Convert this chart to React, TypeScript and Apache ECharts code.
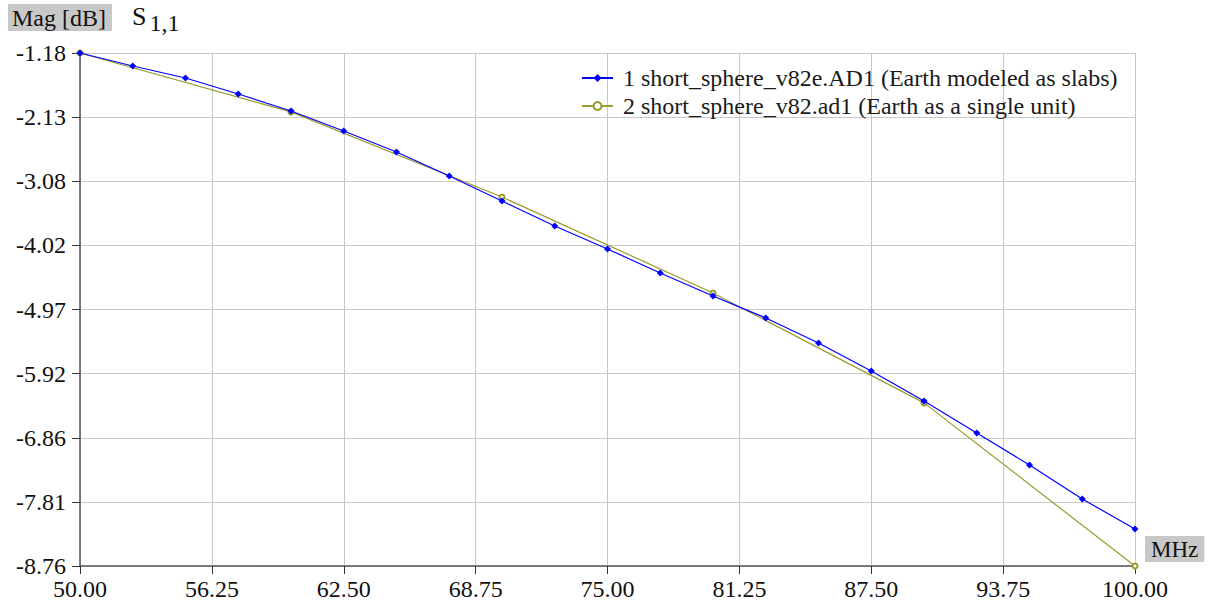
import React, { useEffect, useRef } from "react";
import * as echarts from "echarts";

const freqBlue = [50, 52.5, 55, 57.5, 60, 62.5, 65, 67.5, 70, 72.5, 75, 77.5, 80, 82.5, 85, 87.5, 90, 92.5, 95, 97.5, 100];
const magBlue = [-1.18, -1.372, -1.549, -1.786, -2.037, -2.332, -2.643, -2.997, -3.367, -3.736, -4.076, -4.431, -4.77, -5.095, -5.465, -5.879, -6.322, -6.795, -7.268, -7.77, -8.213];
const freqOlive = [50, 60, 70, 80, 90, 100];
const magOlive = [-1.18, -2.05, -3.308, -4.726, -6.35, -8.76];
const yTickLabels = ["-8.76", "-7.81", "-6.86", "-5.92", "-4.97", "-4.02", "-3.08", "-2.13", "-1.18"];
const seriesNames = [
  "1 short_sphere_v82e.AD1 (Earth modeled as slabs)",
  "2 short_sphere_v82.ad1 (Earth as a single unit)",
];

const Y_MIN = -8.76;
const Y_MAX = -1.18;
const Y_INT = (Y_MAX - Y_MIN) / 8;
const FONT = "Liberation Serif";

export default function App() {
  const ref = useRef<HTMLDivElement>(null);
  useEffect(() => {
    if (!ref.current) return;
    const chart = echarts.init(ref.current, null, { renderer: "svg" });
    chart.setOption({
      animation: false,
      backgroundColor: "#fff",
      textStyle: { fontFamily: FONT },
      grid: { left: 80, right: 76, top: 53, bottom: 46, containLabel: false },
      legend: {
        orient: "vertical",
        left: 576,
        top: 61,
        itemWidth: 31,
        itemHeight: 10,
        itemGap: 4,
        textStyle: { fontFamily: FONT, fontSize: 24, color: "#1a1a1a", padding: [0, 0, 0, 5] },
        data: seriesNames,
      },
      xAxis: {
        type: "value",
        min: 50,
        max: 100,
        interval: 6.25,
        axisLine: { show: true, onZero: false, lineStyle: { color: "#555", width: 1.5 } },
        axisTick: { show: true, length: 8, lineStyle: { color: "#333" } },
        axisLabel: {
          fontFamily: FONT,
          fontSize: 24,
          color: "#111",
          margin: 11,
          formatter: (v: number) => v.toFixed(2),
        },
        splitLine: { show: true, lineStyle: { color: "#c8c8c8", width: 1 } },
      },
      yAxis: {
        type: "value",
        min: Y_MIN,
        max: Y_MAX,
        interval: Y_INT,
        axisLine: { show: true, lineStyle: { color: "#555", width: 1.5 } },
        axisTick: { show: true, length: 8, lineStyle: { color: "#333" } },
        axisLabel: {
          fontFamily: FONT,
          fontSize: 24,
          color: "#111",
          margin: 14,
          formatter: (v: number) => {
            const i = Math.round((v - Y_MIN) / Y_INT);
            return yTickLabels[i] ?? v.toFixed(2);
          },
        },
        splitLine: { show: true, lineStyle: { color: "#c8c8c8", width: 1 } },
      },
      series: [
        {
          name: seriesNames[1],
          type: "line",
          data: freqOlive.map((f, i) => [f, magOlive[i]]),
          symbol: "emptyCircle",
          symbolSize: 5,
          lineStyle: { color: "#9a9a30", width: 1.2 },
          itemStyle: { color: "#9a9a30", borderColor: "#8a8a20" },
          z: 2,
        },
        {
          name: seriesNames[0],
          type: "line",
          data: freqBlue.map((f, i) => [f, magBlue[i]]),
          symbol: "diamond",
          symbolSize: 7,
          lineStyle: { color: "#0000ff", width: 1.2 },
          itemStyle: { color: "#0000ff" },
          z: 3,
        },
      ],
      graphic: [
        {
          type: "text",
          left: 8,
          top: 4,
          style: {
            text: "Mag [dB]",
            fontFamily: FONT,
            fontSize: 24,
            fill: "#111",
            backgroundColor: "#c8c8c8",
            padding: [2, 6, 1, 4],
          },
        },
        {
          type: "text",
          left: 132,
          top: 3,
          style: {
            text: "{s|S}{sub|1,1}",
            rich: {
              s: { fontFamily: FONT, fontSize: 26, fill: "#111", padding: [0, 3, 0, 0] },
              sub: { fontFamily: FONT, fontSize: 24, fill: "#111", padding: [14, 0, 0, 0] },
            },
          },
        },
        {
          type: "text",
          left: 1145,
          top: 536,
          style: {
            text: "MHz",
            fontFamily: FONT,
            fontSize: 23,
            fill: "#111",
            backgroundColor: "#c8c8c8",
            padding: [2, 6, 1, 6],
          },
        },
      ],
    });
    return () => chart.dispose();
  }, []);
  return <div ref={ref} style={{ width: 1211, height: 612, position: "absolute", left: 0, top: 0 }} />;
}
